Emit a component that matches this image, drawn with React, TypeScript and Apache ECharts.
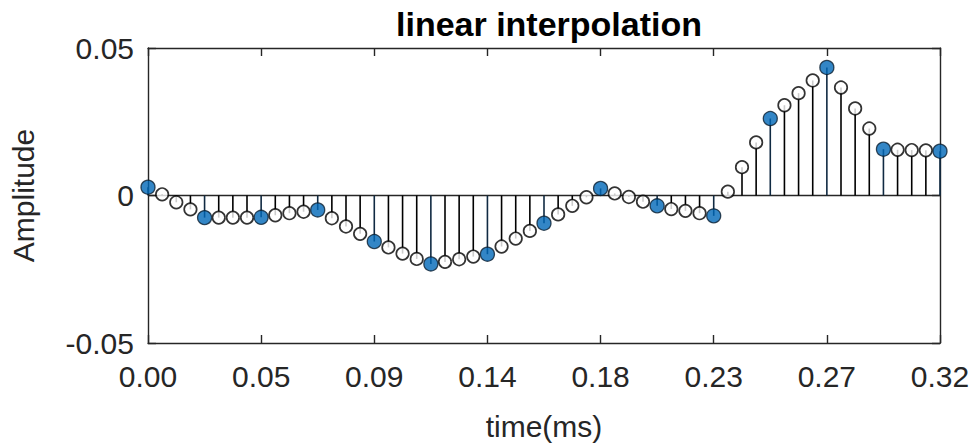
import React, { useEffect, useRef } from "react";
import * as echarts from "echarts";

// Amplitude of every sample (original samples at every 4th index, interpolated in between)
const amplitudes: number[] = [
  0.0028, 0.0004, -0.0023, -0.0047,
  -0.0075, -0.0075, -0.0075, -0.0075,
  -0.0074, -0.0067, -0.006, -0.0055,
  -0.0049, -0.0077, -0.0105, -0.013,
  -0.0156, -0.0176, -0.0197, -0.0215,
  -0.0232, -0.0225, -0.0216, -0.0207,
  -0.0199, -0.0173, -0.0146, -0.012,
  -0.0094, -0.0064, -0.0035, -0.0006,
  0.0024, 0.0007, -0.0005, -0.0021,
  -0.0035, -0.0046, -0.0052, -0.006,
  -0.0069, 0.0013, 0.0096, 0.018,
  0.0261, 0.0306, 0.0347, 0.039,
  0.0434, 0.0366, 0.0295, 0.0227,
  0.0157, 0.0155, 0.0154, 0.0153,
  0.015,
];
const upsampleFactor = 4;
const timeSpan = 0.32; // ms
const xTickCount = 7;
const yTicks = [-0.05, 0, 0.05];

const FONT = "'Liberation Sans', Arial, Helvetica, sans-serif";
const AXIS_COLOR = "#262626";
const BLUE = "#0068b8";

export default function App() {
  const ref = useRef<HTMLDivElement>(null);
  useEffect(() => {
    if (!ref.current) return;
    const chart = echarts.init(ref.current, undefined, { renderer: "svg" });
    const dt = timeSpan / (amplitudes.length - 1);
    const all = amplitudes.map((v, i) => [i * dt, v, i % upsampleFactor === 0 ? 1 : 0]);
    const originals = all.filter((d) => d[2] === 1);
    const interpolated = all.filter((d) => d[2] === 0);
    const xInterval = timeSpan / xTickCount;

    const xBase = {
      type: "value" as const,
      min: 0,
      max: timeSpan,
      interval: xInterval,
      axisLine: { show: true, onZero: false, lineStyle: { color: AXIS_COLOR, width: 1.4 } },
      axisTick: { show: true, inside: true, length: 8, lineStyle: { color: AXIS_COLOR, width: 1.4 } },
      splitLine: { show: false },
    };
    const yBase = {
      type: "value" as const,
      min: yTicks[0],
      max: yTicks[yTicks.length - 1],
      interval: 0.05,
      axisLine: { show: true, onZero: false, lineStyle: { color: AXIS_COLOR, width: 1.4 } },
      axisTick: { show: true, inside: true, length: 8, lineStyle: { color: AXIS_COLOR, width: 1.4 } },
      splitLine: { show: false },
    };

    const stem = (color: string) => (params: any, api: any) => {
      const x = api.value(0);
      const y = api.value(1);
      const p0 = api.coord([x, 0]);
      const p1 = api.coord([x, y]);
      return {
        type: "line",
        shape: { x1: p0[0], y1: p0[1], x2: p1[0], y2: p1[1] },
        style: { stroke: color, lineWidth: 1.6 },
      };
    };

    chart.setOption({
      animation: false,
      backgroundColor: "#ffffff",
      title: {
        text: "linear interpolation",
        left: 544,
        top: 2,
        textAlign: "center",
        textStyle: { fontFamily: FONT, fontSize: 34, fontWeight: "bold", color: "#000000" },
      },
      grid: { left: 148, right: 35, top: 48, bottom: 105, containLabel: false },
      xAxis: [
        {
          ...xBase,
          position: "bottom",
          name: "time(ms)",
          nameLocation: "middle",
          nameGap: 68,
          nameTextStyle: { fontFamily: FONT, fontSize: 30, color: AXIS_COLOR },
          axisLabel: {
            show: true,
            margin: 18,
            fontFamily: FONT,
            fontSize: 30,
            color: AXIS_COLOR,
            formatter: (v: number) => v.toFixed(2),
          },
        },
        { ...xBase, position: "top", axisLabel: { show: false } },
      ],
      yAxis: [
        {
          ...yBase,
          position: "left",
          name: "Amplitude",
          nameLocation: "middle",
          nameGap: 110,
          nameTextStyle: { fontFamily: FONT, fontSize: 30, color: AXIS_COLOR },
          axisLabel: {
            show: true,
            margin: 14,
            fontFamily: FONT,
            fontSize: 30,
            color: AXIS_COLOR,
            formatter: (v: number) => (Math.abs(v) < 1e-9 ? "0" : v.toFixed(2)),
          },
        },
        { ...yBase, position: "right", axisLabel: { show: false } },
      ],
      series: [
        {
          type: "line",
          data: [
            [0, 0],
            [timeSpan, 0],
          ],
          symbol: "none",
          lineStyle: { color: AXIS_COLOR, width: 1.4 },
          z: 1,
          silent: true,
        },
        {
          type: "custom",
          data: interpolated,
          renderItem: stem("#000000"),
          z: 2,
          silent: true,
        },
        {
          type: "custom",
          data: originals,
          renderItem: stem("#102a42"),
          z: 2,
          silent: true,
        },
        {
          type: "scatter",
          data: interpolated,
          symbol: "circle",
          symbolSize: 12.5,
          itemStyle: { color: "#ffffff", borderColor: "#000000", borderWidth: 1.7 },
          z: 3,
          silent: true,
        },
        {
          type: "scatter",
          data: originals,
          symbol: "circle",
          symbolSize: 14,
          itemStyle: { color: BLUE, borderColor: "#0a1e30", borderWidth: 1.3 },
          z: 4,
          silent: true,
        },
      ],
    });
    return () => chart.dispose();
  }, []);
  return (
    <div
      ref={ref}
      style={{ position: "absolute", left: 0, top: 0, width: 975, height: 448 }}
    />
  );
}
